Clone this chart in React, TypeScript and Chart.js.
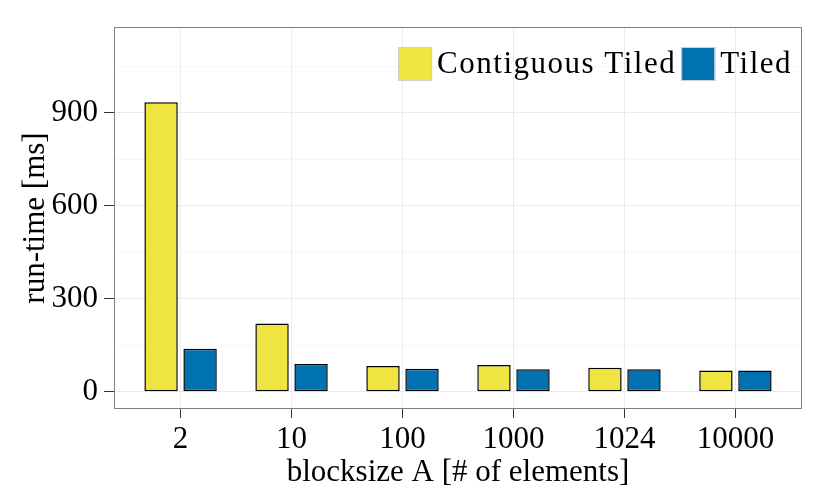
import { useEffect, useRef } from 'react';
import { Chart, registerables } from 'chart.js';

Chart.register(...registerables);

// blocksize categories and run-times (ms)
const blocksizes = ['2', '10', '100', '1000', '1024', '10000'];
const contiguousTiled = [933, 220, 83, 86, 77, 68];
const tiled = [138, 89, 74, 72, 72, 68];
const yGridValues = [0, 150, 300, 450, 600, 750, 900, 1050];
const yLabelStep = 300;

const FONT = '"Liberation Serif", "Times New Roman", serif';
const FONT_SIZE = 31;

// legend drawn inside the panel, top right (ggplot style)
const insideLegend = {
  id: 'insideLegend',
  afterDraw(chart: any) {
    const { ctx, chartArea } = chart;
    const box = 34;
    const gap = 5;
    ctx.save();
    ctx.font = `${FONT_SIZE}px ${FONT}`;
    ctx.textBaseline = 'middle';
    ctx.letterSpacing = '1.5px';
    const items = chart.data.datasets.map((ds: any) => ({
      label: ds.label,
      color: ds.backgroundColor,
      w: ctx.measureText(ds.label).width,
    }));
    const total =
      items.reduce((s: number, it: any) => s + box + gap + it.w, 0) + gap * (items.length - 1);
    let x = chartArea.right - 10 - total;
    const top = chartArea.top + 20;
    items.forEach((it: any) => {
      ctx.fillStyle = it.color;
      ctx.fillRect(x, top, box, box);
      ctx.strokeStyle = '#cfcfcf';
      ctx.lineWidth = 1;
      ctx.strokeRect(x + 0.5, top + 0.5, box - 1, box - 1);
      x += box + gap;
      ctx.fillStyle = '#000';
      ctx.fillText(it.label, x, top + box / 2 + 1);
      x += it.w + gap;
    });
    ctx.restore();
  },
};

// grey panel border around the plot area
const panelBorder = {
  id: 'panelBorder',
  afterDatasetsDraw(chart: any) {
    const { ctx, chartArea } = chart;
    ctx.save();
    ctx.strokeStyle = '#7f7f7f';
    ctx.lineWidth = 1;
    ctx.strokeRect(
      chartArea.left + 0.5,
      chartArea.top + 0.5,
      chartArea.right - chartArea.left - 1,
      chartArea.bottom - chartArea.top - 1
    );
    ctx.restore();
  },
};

const App = () => {
  const canvasRef = useRef<HTMLCanvasElement>(null);

  useEffect(() => {
    document.body.style.margin = '0';
    if (!canvasRef.current) return;

    const chart = new Chart(canvasRef.current, {
      type: 'bar',
      data: {
        datasets: [
          {
            label: 'Contiguous Tiled',
            data: contiguousTiled.map((v, i) => ({ x: i, y: v })),
            backgroundColor: '#F0E442',
            borderColor: '#000',
            borderWidth: 1.5,
            borderSkipped: false,
          },
          {
            label: 'Tiled',
            data: tiled.map((v, i) => ({ x: i, y: v })),
            backgroundColor: '#0072B2',
            borderColor: '#000',
            borderWidth: 1.5,
            borderSkipped: false,
          },
        ],
      },
      options: {
        responsive: false,
        animation: false,
        categoryPercentage: 0.703,
        barPercentage: 0.856,
        layout: { padding: { left: 0, right: 28, top: 27, bottom: 0 } },
        plugins: {
          legend: { display: false },
          tooltip: { enabled: false },
        },
        scales: {
          x: {
            type: 'linear',
            min: -0.6,
            max: 5.6,
            offset: false,
            afterBuildTicks: (scale: any) => {
              scale.ticks = blocksizes.map((_, i) => ({ value: i }));
            },
            afterFit: (scale: any) => {
              scale.height = 89;
            },
            grid: {
              offset: false,
              color: '#ebebeb',
              tickColor: '#333',
              tickLength: 9,
            },
            border: { display: false },
            ticks: {
              color: '#000',
              padding: 3,
              maxRotation: 0,
              autoSkip: false,
              font: { family: FONT, size: FONT_SIZE },
              callback: (_v: any, i: number) => blocksizes[i],
            },
            title: {
              display: true,
              text: 'blocksize A [# of elements]',
              color: '#000',
              font: { family: FONT, size: FONT_SIZE },
              padding: { top: 7, bottom: 7 },
            },
          },
          y: {
            min: -56,
            max: 1176,
            afterBuildTicks: (scale: any) => {
              scale.ticks = yGridValues.map((v) => ({ value: v }));
            },
            afterFit: (scale: any) => {
              scale.width = 114;
            },
            grid: {
              color: (c: any) => (c.tick && c.tick.value % yLabelStep === 0 ? '#ebebeb' : '#f6f6f6'),
              tickColor: (c: any) =>
                c.tick && c.tick.value % yLabelStep === 0 ? '#333' : 'rgba(0,0,0,0)',
              tickLength: 10,
            },
            border: { display: false },
            ticks: {
              color: '#000',
              padding: 6,
              autoSkip: false,
              font: { family: FONT, size: FONT_SIZE },
              callback: (v: any) => (v % yLabelStep === 0 ? String(v) : ''),
            },
            title: {
              display: true,
              text: 'run-time [ms]',
              color: '#000',
              font: { family: FONT, size: FONT_SIZE },
              padding: { top: 17, bottom: 17 },
            },
          },
        },
      },
      plugins: [panelBorder, insideLegend],
    } as any);

    return () => {
      chart.destroy();
    };
  }, []);

  return (
    <div style={{ width: 830, height: 498, background: '#fff' }}>
      <canvas ref={canvasRef} width={830} height={498} />
    </div>
  );
};

export default App;
